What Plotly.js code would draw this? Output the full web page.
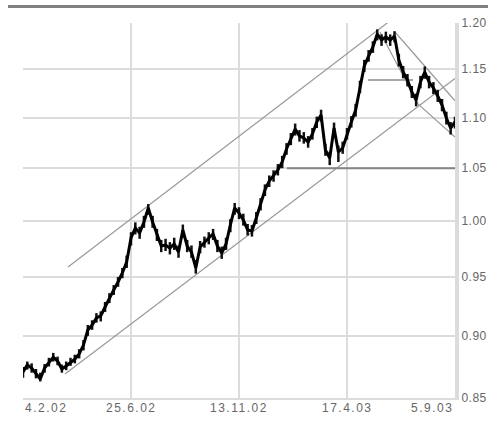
<!DOCTYPE html>
<html><head><meta charset="utf-8">
<script src="https://cdn.plot.ly/plotly-3.0.1.min.js"></script>
<style>
html,body{margin:0;padding:0;background:#fff;}
#chart{position:absolute;left:0;top:0;width:488px;height:430px;}
#topbar{position:absolute;left:8px;top:5px;width:480px;height:3px;background:#808080;}
.ytick text{letter-spacing:0.5px;}
.annotation-text{letter-spacing:1.5px;}
</style></head><body>
<div id="chart"></div><div id="topbar"></div>
<script>
// trading-day index (every 4th bar) with close / high / low
const barIndex = [0,4,8,12,16,20,24,28,32,36,40,44,48,52,56,60,64,68,72,76,80,84,88,92,96,100,
  104,108,112,116,120,124,128,132,136,140,144,148,152,156,160,164,168,172,176,180,184,188,192,196,200,
  204,208,212,216,220,224,228,232,236,240,244,248,252,256,260,264,268,272,276,280,284,288,292,296,300,
  304,308,312,316,320,324,328,332,336,340,344,348,352,356,360,364,368,372,376,380,384,388,392,396,400];
const closes = [0.8706,0.8763,0.8738,0.8690,0.8650,0.8738,0.8786,0.8826,0.8794,0.8730,0.8754,
  0.8786,0.8810,0.8851,0.8924,0.9048,0.9090,0.9149,0.9166,0.9242,0.9319,
  0.9388,0.9457,0.9536,0.9633,0.9847,0.9938,0.9893,0.9993,1.0123,0.9993,
  0.9875,0.9775,0.9784,0.9757,0.9793,0.9721,0.9920,0.9775,0.9721,0.9580,
  0.9766,0.9811,0.9847,0.9884,0.9775,0.9712,0.9793,0.9966,1.0123,1.0076,
  1.0012,0.9920,0.9911,1.0030,1.0160,1.0292,1.0377,1.0425,1.0483,1.0560,
  1.0687,1.0786,1.0885,1.0816,1.0796,1.0756,1.0836,1.0956,1.1027,1.0677,
  1.0599,1.0895,1.0658,1.0697,1.0836,1.0956,1.1077,1.1314,1.1535,1.1641,
  1.1738,1.1879,1.1814,1.1847,1.1814,1.1857,1.1598,1.1471,1.1387,1.1262,
  1.1180,1.1366,1.1471,1.1366,1.1304,1.1221,1.1128,1.0996,1.0895,1.0956];
const highs = [0.8745,0.8790,0.8775,0.8730,0.8700,0.8770,0.8820,0.8860,0.8830,0.8765,0.8790,
  0.8820,0.8845,0.8890,0.8965,0.9090,0.9130,0.9190,0.9205,0.9285,0.9360,
  0.9430,0.9500,0.9580,0.9690,0.9900,0.9990,0.9950,1.0050,1.0160,1.0050,
  0.9930,0.9830,0.9840,0.9810,0.9850,0.9780,0.9970,0.9830,0.9780,0.9650,
  0.9820,0.9860,0.9900,0.9930,0.9830,0.9770,0.9850,1.0020,1.0170,1.0130,
  1.0070,0.9975,0.9965,1.0085,1.0215,1.0345,1.0430,1.0480,1.0540,1.0620,
  1.0745,1.0845,1.0940,1.0875,1.0855,1.0815,1.0895,1.1010,1.1080,1.0740,
  1.0660,1.0950,1.0720,1.0760,1.0895,1.1015,1.1140,1.1380,1.1600,1.1705,
  1.1800,1.1930,1.1875,1.1905,1.1875,1.1910,1.1665,1.1535,1.1450,1.1325,
  1.1245,1.1430,1.1530,1.1430,1.1365,1.1285,1.1190,1.1060,1.0955,1.1010];
const lows = [0.8660,0.8725,0.8700,0.8655,0.8630,0.8700,0.8750,0.8790,0.8760,0.8700,0.8720,
  0.8755,0.8775,0.8815,0.8880,0.9000,0.9050,0.9110,0.9120,0.9200,0.9275,
  0.9345,0.9415,0.9490,0.9580,0.9780,0.9880,0.9840,0.9940,1.0060,0.9940,
  0.9820,0.9720,0.9730,0.9700,0.9740,0.9670,0.9850,0.9720,0.9670,0.9530,
  0.9710,0.9760,0.9790,0.9830,0.9720,0.9660,0.9740,0.9900,1.0060,1.0020,
  0.9960,0.9870,0.9860,0.9975,1.0100,1.0235,1.0320,1.0370,1.0430,1.0500,
  1.0630,1.0725,1.0820,1.0760,1.0740,1.0700,1.0780,1.0895,1.0960,1.0620,
  1.0530,1.0830,1.0560,1.0640,1.0780,1.0900,1.1010,1.1250,1.1470,1.1580,
  1.1675,1.1810,1.1750,1.1780,1.1750,1.1790,1.1530,1.1405,1.1320,1.1200,
  1.1115,1.1300,1.1400,1.1300,1.1240,1.1160,1.1065,1.0930,1.0830,1.0890];

const tickBars = [0,100,200,300,400];
const tickLabels = ['4.2.02','25.6.02','13.11.02','17.4.03','5.9.03'];
const priceTicks = [0.85,0.90,0.95,1.00,1.05,1.10,1.15,1.20];
const priceLabels = ['0.85','0.90','0.95','1.00','1.05','1.10','1.15','1.20'];

// trend lines (bar index, price)
const upperChannelX = [41.7, 348.1];
const upperChannelY = [0.9588, 1.2100];
const lowerChannelX = [38.9, 400];
const lowerChannelY = [0.8690, 1.1403];
const supportX = [244.4, 400];
const supportY = [1.05, 1.05];
const midLevelX = [319.4, 361.1];
const midLevelY = [1.1387, 1.1387];
const fallLowerX = [330.6, 365.7, 400];
const fallLowerY = [1.1901, 1.1139, 1.0806];
const fallUpperX = [344.4, 400];
const fallUpperY = [1.1901, 1.1172];

const thin = {color:'#999999', width:1.2};
function ln(x, y, line){ return {type:'scatter', mode:'lines', x:x, y:y, line:line, hoverinfo:'skip'}; }

const traces = [
  ln(upperChannelX, upperChannelY, thin),
  ln(lowerChannelX, lowerChannelY, thin),
  ln(midLevelX, midLevelY, {color:'#8c8c8c', width:1.5}),
  ln(fallLowerX, fallLowerY, thin),
  ln(fallUpperX, fallUpperY, thin),
  ln(supportX, supportY, {color:'#858585', width:2}),
  {type:'scatter', mode:'lines', x:barIndex, y:closes, line:{color:'#000', width:3},
   error_y:{type:'data', symmetric:false,
     array: highs.map((h,i)=>h-closes[i]),
     arrayminus: lows.map((l,i)=>closes[i]-l),
     color:'#111', thickness:2.5, width:0}}
];

const annotations = tickBars.map((b,i)=>({
  x:b, xref:'x', y:0, yref:'paper', yanchor:'top', yshift:-1,
  xanchor: i===0 ? 'left' : (i===tickBars.length-1 ? 'right' : 'center'),
  text: tickLabels[i], showarrow:false,
  font:{family:'Liberation Sans, Arial', size:12, color:'#666'}
}));

const layout = {
  width:488, height:430,
  margin:{l:23, r:33, t:23, b:32},
  paper_bgcolor:'#fff', plot_bgcolor:'#fff',
  showlegend:false,
  xaxis:{range:[0,400], tickvals:tickBars, showticklabels:false, ticks:'',
    showgrid:true, gridcolor:'#dcdcdc', gridwidth:2, zeroline:false,
    showline:true, linecolor:'#dcdcdc', linewidth:2},
  yaxis:{type:'log', side:'right', range:[Math.log10(0.85), Math.log10(1.2)],
    tickvals:priceTicks, ticktext:priceLabels, ticks:'',
    tickfont:{family:'Liberation Sans, Arial', size:12, color:'#666'},
    showgrid:true, gridcolor:'#dcdcdc', gridwidth:2, zeroline:false,
    showline:true, linecolor:'#dcdcdc', linewidth:4},
  annotations:annotations
};
Plotly.newPlot('chart', traces, layout, {displayModeBar:false, staticPlot:true});
</script></body></html>
